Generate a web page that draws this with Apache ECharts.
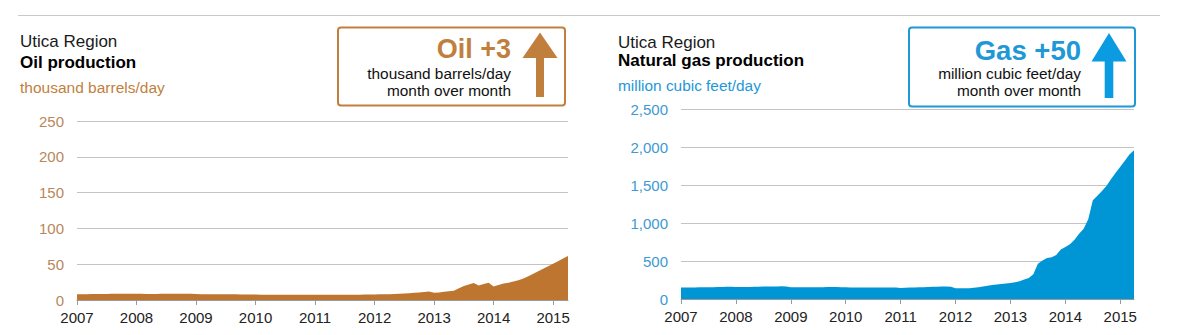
<!DOCTYPE html>
<html>
<head>
<meta charset="utf-8">
<script src="https://cdn.jsdelivr.net/npm/echarts@6/dist/echarts.min.js"></script>
<style>
html,body{margin:0;padding:0;background:#fff;}
#chart{width:1197px;height:335px;}
</style>
</head>
<body>
<div id="chart"></div>
<script>
// ---- data ----
const years = ['2007','2008','2009','2010','2011','2012','2013','2014','2015'];
const monthsPerYear = 12;
const lastMonthCount = 4; // Jan-Apr 2015

// Oil production, thousand barrels/day (monthly, Jan 2007 - Apr 2015)
const oil2007 = [8.0, 8.1, 8.2, 8.3, 8.4, 8.5, 8.5, 8.6, 8.7, 8.8, 8.8, 8.7];
const oil2008 = [8.6, 8.6, 8.5, 8.5, 8.5, 8.6, 8.6, 8.7, 8.8, 8.9, 8.9, 8.8];
const oil2009 = [8.3, 8.2, 8.2, 8.1, 8.1, 8.0, 8.0, 7.9, 7.9, 7.8, 7.8, 7.7];
const oil2010 = [7.6, 7.5, 7.5, 7.5, 7.4, 7.4, 7.4, 7.4, 7.4, 7.4, 7.4, 7.4];
const oil2011 = [7.4, 7.4, 7.4, 7.4, 7.4, 7.5, 7.5, 7.5, 7.5, 7.5, 7.6, 7.7];
const oil2012 = [7.8, 7.9, 8.0, 8.2, 8.4, 8.7, 9.0, 9.5, 10.0, 10.5, 11.0, 12.0];
const oil2013 = [10.2, 10.5, 11.5, 12.2, 13.0, 16.5, 19.5, 21.8, 23.6, 20.4, 22.5, 24.0];
const oil2014 = [19.0, 21.0, 23.0, 24.0, 26.0, 27.5, 30.0, 33.0, 36.5, 40.0, 43.5, 47.0];
const oil2015 = [50.5, 54.0, 58.0, 61.6];

// Natural gas production, million cubic feet/day
const gas2007 = [150, 150, 151, 152, 153, 154, 155, 156, 157, 158, 160, 162];
const gas2008 = [158, 157, 158, 159, 160, 162, 163, 164, 165, 166, 167, 165];
const gas2009 = [155, 154, 154, 154, 155, 155, 156, 156, 157, 157, 157, 156];
const gas2010 = [153, 152, 152, 151, 151, 151, 151, 152, 152, 152, 152, 150];
const gas2011 = [146, 148, 150, 151, 153, 155, 158, 160, 162, 163, 164, 162];
const gas2012 = [142, 140, 141, 143, 148, 155, 165, 175, 185, 192, 198, 204];
const gas2013 = [210, 220, 232, 255, 276, 325, 465, 505, 540, 548, 580, 650];
const gas2014 = [685, 720, 780, 860, 925, 1050, 1300, 1360, 1420, 1490, 1580, 1660];
const gas2015 = [1740, 1820, 1900, 1956];

const oilTicks = [0, 50, 100, 150, 200, 250];
const gasTicks = [0, 500, 1000, 1500, 2000, 2500];

// ---- build ----
const oilData = [].concat(oil2007, oil2008, oil2009, oil2010, oil2011, oil2012, oil2013, oil2014, oil2015);
const gasData = [].concat(gas2007, gas2008, gas2009, gas2010, gas2011, gas2012, gas2013, gas2014, gas2015);
const months = [];
years.forEach((y, i) => {
  const n = (i === years.length - 1) ? lastMonthCount : monthsPerYear;
  for (let m = 1; m <= n; m++) months.push(y + '-' + (m < 10 ? '0' + m : m));
});

const FONT = '"Liberation Sans", Arial, Helvetica, sans-serif';
const OIL = '#bd7530';
const OIL_TXT = '#c17f3e';
const OIL_LBL = '#b9875b';
const GAS = '#0096d6';
const GAS_TXT = '#1e98d6';
const GAS_LBL = '#3d9ad2';

const chart = echarts.init(document.getElementById('chart'), null, {renderer: 'svg'});

function xAxis(gridIndex) {
  return {
    type: 'category', gridIndex, data: months, boundaryGap: false,
    axisLine: {show: true, lineStyle: {color: '#999', width: 1}},
    axisTick: {show: true, length: 5, interval: (i) => i % 12 === 0, lineStyle: {color: '#999'}},
    axisLabel: {interval: (i) => i % 12 === 0, formatter: (v) => v.slice(0, 4),
      color: '#222', fontSize: 15, fontFamily: FONT, margin: 10},
    splitLine: {show: false}
  };
}
function yAxis(gridIndex, ticks, color, fmt) {
  return {
    type: 'value', gridIndex, min: ticks[0], max: ticks[ticks.length - 1],
    interval: ticks[1] - ticks[0],
    axisLine: {show: false}, axisTick: {show: false},
    axisLabel: {color, fontSize: 15, fontFamily: FONT, margin: 13, formatter: fmt},
    splitLine: {show: true, lineStyle: {color: '#c4c4c4', width: 1}}
  };
}

function txt(x, y, text, size, color, weight, align) {
  return {type: 'text', silent: true, style: {x, y, text, fontSize: size, fontFamily: FONT,
    fill: color, fontWeight: weight || 'normal', align: align || 'left', verticalAlign: 'middle'}};
}
function arrow(cx, tipY, headBaseY, headHalf, shaftHalf, bottomY, color) {
  return {type: 'polygon', silent: true, shape: {points: [
    [cx, tipY], [cx + headHalf, headBaseY], [cx + shaftHalf, headBaseY], [cx + shaftHalf, bottomY],
    [cx - shaftHalf, bottomY], [cx - shaftHalf, headBaseY], [cx - headHalf, headBaseY]]},
    style: {fill: color}};
}

chart.setOption({
  animation: false,
  grid: [
    {left: 77, top: 121, width: 491, height: 179},
    {left: 681, top: 109, width: 453, height: 190}
  ],
  xAxis: [xAxis(0), xAxis(1)],
  yAxis: [
    yAxis(0, oilTicks, OIL_LBL, (v) => String(v)),
    yAxis(1, gasTicks, GAS_LBL, (v) => v.toLocaleString('en-US'))
  ],
  series: [
    {type: 'line', xAxisIndex: 0, yAxisIndex: 0, data: oilData, showSymbol: false,
      lineStyle: {width: 0}, areaStyle: {color: OIL, opacity: 1}, itemStyle: {color: OIL}},
    {type: 'line', xAxisIndex: 1, yAxisIndex: 1, data: gasData, showSymbol: false,
      lineStyle: {width: 0}, areaStyle: {color: GAS, opacity: 1}, itemStyle: {color: GAS}}
  ],
  graphic: [
    {type: 'line', silent: true, shape: {x1: 18, y1: 15.5, x2: 1160, y2: 15.5}, style: {stroke: '#c8c8c8', lineWidth: 1}},
    // left panel
    txt(20, 41, 'Utica Region', 17, '#1a1a1a'),
    txt(20, 62.5, 'Oil production', 17, '#000', 'bold'),
    txt(20, 87, 'thousand barrels/day', 15.5, OIL_TXT),
    {type: 'rect', silent: true, shape: {x: 338, y: 27.5, width: 227, height: 78, r: 3},
      style: {fill: '#fff', stroke: OIL_TXT, lineWidth: 2}},
    txt(511, 49, 'Oil +3', 27, OIL_TXT, 'bold', 'right'),
    txt(511, 73, 'thousand barrels/day', 15.4, '#111', 'normal', 'right'),
    txt(511, 90, 'month over month', 15.4, '#111', 'normal', 'right'),
    arrow(540, 32.5, 58, 17.5, 4, 97, OIL_TXT),
    // right panel
    txt(618, 42.5, 'Utica Region', 17, '#1a1a1a'),
    txt(618, 60.5, 'Natural gas production', 17, '#000', 'bold'),
    txt(618, 85, 'million cubic feet/day', 15.4, GAS_TXT),
    {type: 'rect', silent: true, shape: {x: 909, y: 27.5, width: 226, height: 79, r: 3},
      style: {fill: '#fff', stroke: GAS_TXT, lineWidth: 2}},
    txt(1081, 50, 'Gas +50', 27.5, GAS_TXT, 'bold', 'right'),
    txt(1081, 73, 'million cubic feet/day', 15.4, '#111', 'normal', 'right'),
    txt(1081, 90, 'month over month', 15.4, '#111', 'normal', 'right'),
    arrow(1109, 33, 61.5, 17.5, 4.3, 98, '#0a9be0')
  ]
});
</script>
</body>
</html>
